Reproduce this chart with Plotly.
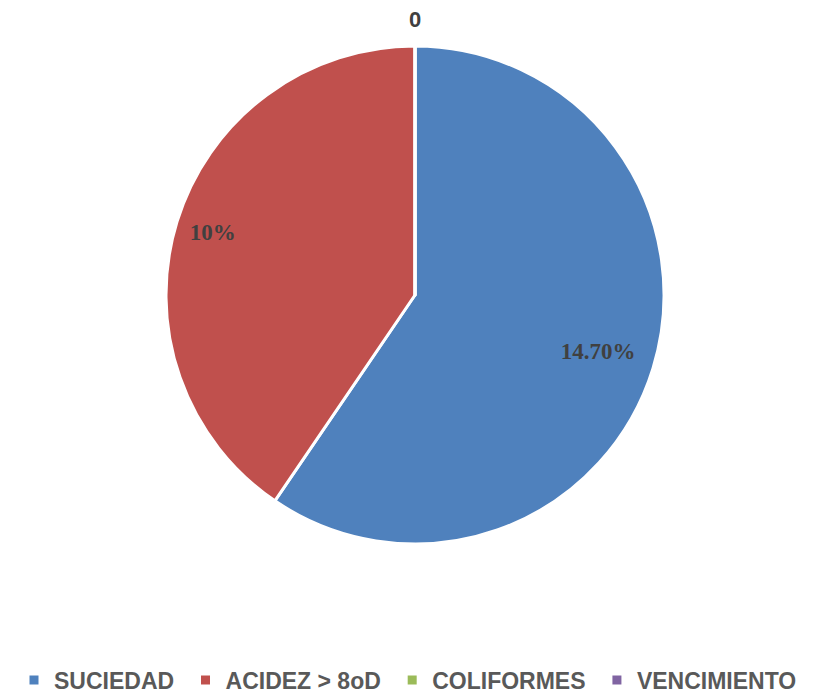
import plotly.graph_objects as go

categories = ["SUCIEDAD", "ACIDEZ > 8oD", "COLIFORMES", "VENCIMIENTO"]
values = [14.7, 10, 0, 0]
label_texts = ["14.70%", "10%", "", ""]
colors = ["#4F81BD", "#C0504D", "#9BBB59", "#8064A2"]
title_text = "0"

legend_labels = [c + "\u00a0" for c in categories]
dom = dict(x=[(407 - 249) / 813, (407 + 249) / 813], y=[1 - 536 / 694, 1 - 38 / 694])

fig = go.Figure()
fig.add_trace(go.Pie(
    labels=legend_labels,
    values=values,
    textinfo="none",
    marker=dict(colors=colors, line=dict(color="white", width=3)),
    sort=False,
    direction="clockwise",
    rotation=0,
    domain=dom,
    hoverinfo="label+value",
))
# transparent rings used only to place the data labels toward the outer edge
for idx, hole in [(0, 0.54), (1, 0.70)]:
    txt = [t if i == idx else "" for i, t in enumerate(label_texts)]
    fig.add_trace(go.Pie(
        labels=legend_labels,
        values=values,
        text=txt,
        textinfo="text",
        textposition="inside",
        insidetextorientation="horizontal",
        textfont=dict(family="Liberation Serif", size=23, color="#404040", weight="bold"),
        marker=dict(colors=["rgba(0,0,0,0)"] * 4, line=dict(width=0)),
        hole=hole,
        sort=False,
        direction="clockwise",
        rotation=0,
        domain=dom,
        showlegend=False,
        hoverinfo="skip",
    ))

fig.update_layout(
    width=813, height=694,
    margin=dict(l=0, r=0, t=0, b=0),
    paper_bgcolor="white",
    title=dict(text="<b>" + title_text + "</b>", x=407 / 813, xanchor="center", y=1 - 11 / 694, yanchor="middle",
               font=dict(family="Liberation Sans", size=22, color="#404040")),
    legend=dict(orientation="h", x=403 / 813, xanchor="center", y=1 - 672 / 694, yanchor="middle",
                font=dict(family="Liberation Sans", size=23, color="#595959", weight="bold"),
                traceorder="normal"),
    showlegend=True,
)

fig.write_html("out.html")
